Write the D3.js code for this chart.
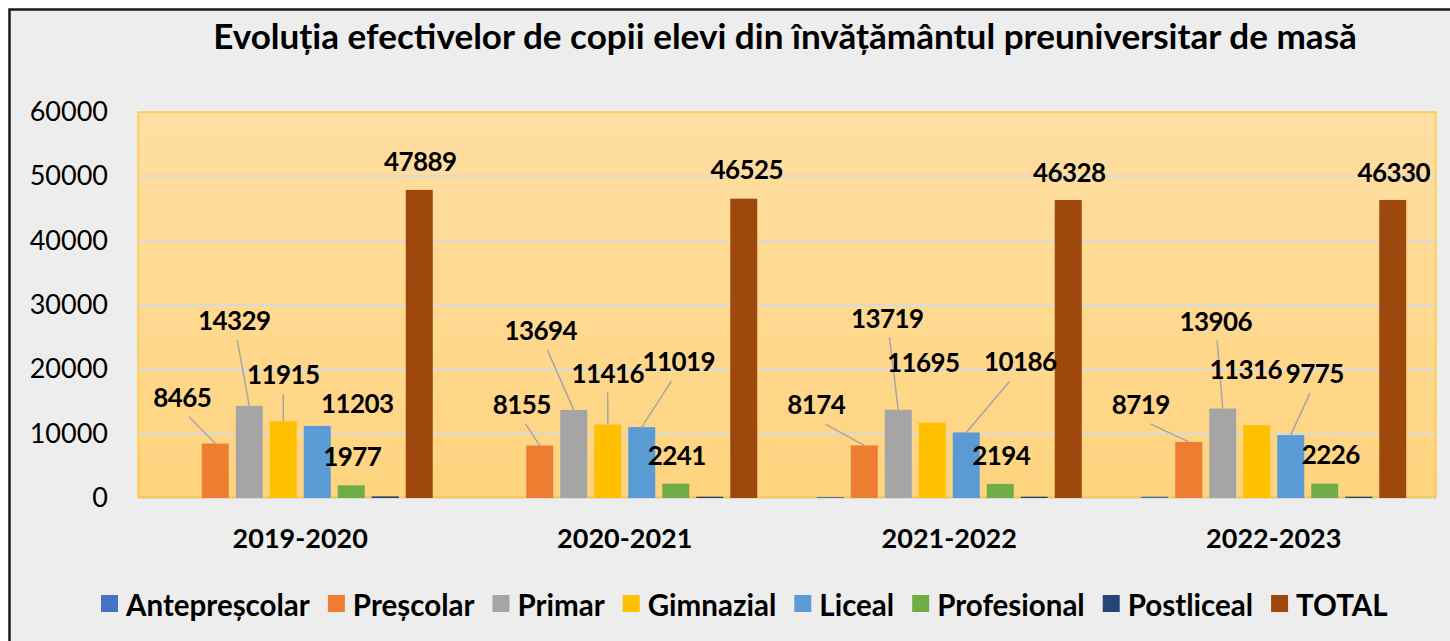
<!DOCTYPE html>
<html>
<head>
<meta charset="utf-8">
<script src="https://cdn.jsdelivr.net/npm/d3@7"></script>
<style type="text/css">
	body {
		margin: 0;
		background-color: #ffffff;
	}
	svg text {
		font-family: Lato, "Open Sans", sans-serif;
	}
</style>
</head>
<body>
<div id="chart"></div>
<script type="text/javascript">

	// date
	const categories = ["2019-2020", "2020-2021", "2021-2022", "2022-2023"];
	const seriesNames = ["Antepreșcolar", "Preșcolar", "Primar", "Gimnazial", "Liceal", "Profesional", "Postliceal", "TOTAL"];
	const antepresc = [0, 0, 150, 200];
	const presc = [8465, 8155, 8174, 8719];
	const primar = [14329, 13694, 13719, 13906];
	const gimnazial = [11915, 11416, 11695, 11316];
	const liceal = [11203, 11019, 10186, 9775];
	const profesional = [1977, 2241, 2194, 2226];
	const postliceal = [250, 200, 200, 200];
	const total = [47889, 46525, 46328, 46330];
	const yTicks = [0, 10000, 20000, 30000, 40000, 50000, 60000];

	const seriesValues = [antepresc, presc, primar, gimnazial, liceal, profesional, postliceal, total];
	const colors = ["#4472c4", "#ed7d31", "#a5a5a5", "#ffc000", "#5b9bd5", "#70ad47", "#264478", "#9e480e"];
	const showLabel = [false, true, true, true, true, true, false, true];

	// etichete mutate manual (dx, dy fata de varful barei, leader = linie de legatura)
	const labelMoves = {
		"1": [[-33, -47, 1], [-18, -42, 1], [-48, -41, 1], [-48, -38, 1]],
		"2": [[-15, -86, 1], [-33, -80, 1], [-11, -92, 1], [-7, -88, 1]],
		"3": [[0, -47, 1], [0, -52, 1], [-9, -61, 0], [-11, -56, 0]],
		"4": [[40, -23, 0], [37, -66, 1], [54, -71, 1], [24, -62, 1]],
		"5": [[1, -29, 0], [1, -29, 0], [1, -29, 0], [6, -30, 0]],
		"7": [[1, -29, 0], [3, -30, 0], [1, -28, 0], [1, -28, 0]]
	};

	const W = 1450, H = 641;
	const plot = {left: 138, right: 1436, top: 112, bottom: 498};

	const svg = d3.select("#chart").append("svg")
		.attr("width", W).attr("height", H);

	// fundal + chenar negru
	svg.append("rect").attr("x", 0).attr("y", 0).attr("width", W).attr("height", H).attr("fill", "#ffffff");
	svg.append("rect")
		.attr("x", 9.5).attr("y", 9.5).attr("width", W + 20).attr("height", H + 20)
		.attr("fill", "#ededed").attr("stroke", "#1a1a1a").attr("stroke-width", 2.5);

	// gradient zona grafic
	const grad = svg.append("defs").append("linearGradient")
		.attr("id", "plotgrad").attr("x1", 0).attr("y1", 0).attr("x2", 0).attr("y2", 1);
	grad.append("stop").attr("offset", "0%").attr("stop-color", "#fedea2");
	grad.append("stop").attr("offset", "100%").attr("stop-color", "#ffd47f");

	const x0 = d3.scaleBand().domain(categories).range([plot.left, plot.right]);
	const x1 = d3.scaleBand().domain(seriesNames).range([0, x0.bandwidth()])
		.paddingInner(7 / 34).paddingOuter(0.875);
	const y = d3.scaleLinear().domain([0, 60000]).range([plot.bottom, plot.top]);

	svg.append("rect")
		.attr("x", plot.left).attr("y", plot.top)
		.attr("width", plot.right - plot.left).attr("height", plot.bottom - plot.top)
		.attr("fill", "url(#plotgrad)");

	// linii de grila
	svg.append("g").selectAll("line")
		.data(yTicks.filter(t => t < 60000))
		.join("line")
		.attr("x1", plot.left).attr("x2", plot.right)
		.attr("y1", d => y(d)).attr("y2", d => y(d))
		.attr("stroke", "#d9d9d9").attr("stroke-width", 2);

	svg.append("rect")
		.attr("x", plot.left).attr("y", plot.top)
		.attr("width", plot.right - plot.left).attr("height", plot.bottom - plot.top - 1)
		.attr("fill", "none").attr("stroke", "#ffc000").attr("stroke-width", 1);

	// axa Y
	const yAxis = svg.append("g")
		.attr("transform", `translate(${plot.left - 30},0)`)
		.call(d3.axisLeft(y).tickValues(yTicks).tickSize(0).tickPadding(0).tickFormat(d3.format("d")));
	yAxis.select(".domain").remove();
	yAxis.selectAll("text")
		.attr("font-family", "Lato, sans-serif")
		.attr("font-size", 27).attr("fill", "#000");

	// axa X
	const xAxis = svg.append("g")
		.attr("transform", `translate(0,${plot.bottom})`)
		.call(d3.axisBottom(x0).tickSize(0).tickPadding(31));
	xAxis.select(".domain").remove();
	xAxis.selectAll("text")
		.attr("font-family", "Lato, sans-serif")
		.attr("font-weight", "bold")
		.attr("font-size", 27).attr("fill", "#000");

	// bare
	const groups = svg.append("g").selectAll("g")
		.data(categories)
		.join("g")
		.attr("transform", d => `translate(${x0(d)},0)`);

	groups.selectAll("rect")
		.data((c, ci) => seriesNames.map((s, si) => ({s: s, si: si, v: seriesValues[si][ci]})))
		.join("rect")
		.attr("x", d => x1(d.s))
		.attr("y", d => y(d.v))
		.attr("width", x1.bandwidth())
		.attr("height", d => y(0) - y(d.v))
		.attr("fill", d => colors[d.si]);

	// etichete de date
	const labelLayer = svg.append("g");
	categories.forEach((c, ci) => {
		seriesNames.forEach((s, si) => {
			if (!showLabel[si]) return;
			const v = seriesValues[si][ci];
			const bx = x0(c) + x1(s) + x1.bandwidth() / 2;
			const by = y(v);
			const mv = labelMoves[si][ci];
			const lx = bx + mv[0], ly = by + mv[1];
			if (mv[2]) {
				const sx = lx + (bx - lx) * 0.2;
				const sy = ly + 20;
				labelLayer.append("line")
					.attr("x1", sx).attr("y1", sy).attr("x2", bx).attr("y2", by)
					.attr("stroke", "#a6a6a6").attr("stroke-width", 1.5);
			}
			labelLayer.append("text")
				.attr("x", lx).attr("y", ly)
				.attr("text-anchor", "middle").attr("dominant-baseline", "central")
				.attr("font-weight", "bold").attr("font-size", 26)
				.attr("letter-spacing", -0.6)
				.attr("fill", "#000")
				.text(v);
		});
	});

	// titlu
	const title = svg.append("text")
		.attr("x", 785).attr("y", 49)
		.attr("text-anchor", "middle")
		.attr("font-weight", "bold").attr("font-size", 29)
		.attr("fill", "#000")
		.text("Evoluția efectivelor de copii elevi din învățământul preuniversitar de masă");
	const tw = title.node().getComputedTextLength();
	title.attr("font-size", 29 * 1144 / tw);

	// legenda
	const legend = svg.append("g");
	const legTexts = [];
	seriesNames.forEach((s, i) => {
		const g = legend.append("g");
		g.append("rect").attr("x", 0).attr("y", -8).attr("width", 17).attr("height", 17).attr("fill", colors[i]);
		const t = g.append("text").attr("x", 25).attr("y", 1)
			.attr("dominant-baseline", "central")
			.attr("font-weight", "bold").attr("font-size", 26).attr("fill", "#000")
			.text(s);
		legTexts.push({g: g, t: t});
	});
	// potrivire latime legenda (101 .. 1388 in original)
	const gapItem = 18;
	const fixed = seriesNames.length * 25 + (seriesNames.length - 1) * gapItem;
	const txt0 = d3.sum(legTexts, d => d.t.node().getComputedTextLength());
	const fs = 26 * (1287 - fixed) / txt0;
	let lxPos = 0;
	legTexts.forEach(d => {
		d.t.attr("font-size", fs);
		d.g.attr("transform", `translate(${lxPos},0)`);
		lxPos += 25 + d.t.node().getComputedTextLength() + gapItem;
	});
	legend.attr("transform", `translate(101,603)`);

</script>
</body>
</html>
